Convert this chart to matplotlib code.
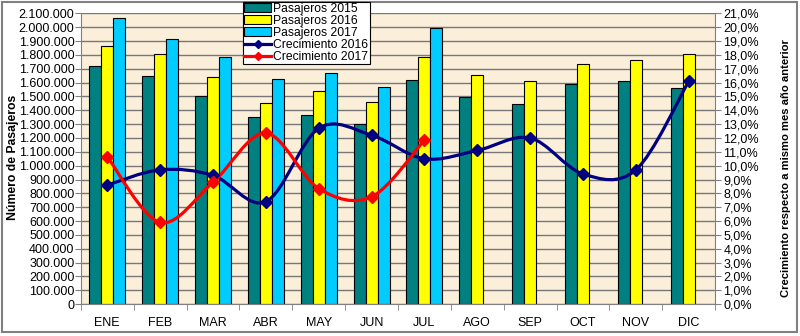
import matplotlib.pyplot as plt
import numpy as np
from matplotlib.path import Path
from matplotlib.patches import PathPatch, Rectangle
from matplotlib.lines import Line2D
from matplotlib.ticker import FuncFormatter, MultipleLocator

plt.rcParams['font.family'] = ['Liberation Sans', 'DejaVu Sans']

meses = ['ENE', 'FEB', 'MAR', 'ABR', 'MAY', 'JUN', 'JUL', 'AGO', 'SEP', 'OCT', 'NOV', 'DIC']
pasajeros_2015 = [1720000, 1648000, 1501000, 1352000, 1366000, 1299000, 1617000,
                  1494000, 1443000, 1588000, 1610000, 1559000]
pasajeros_2016 = [1867000, 1807000, 1639000, 1451000, 1542000, 1463000, 1783000,
                  1658000, 1612000, 1737000, 1764000, 1810000]
pasajeros_2017 = [2070000, 1913000, 1783000, 1629000, 1670000, 1571000, 1995000]
crec_2016 = [8.6, 9.7, 9.3, 7.4, 12.7, 12.2, 10.5, 11.1, 12.0, 9.4, 9.7, 16.1]
crec_2017 = [10.65, 5.9, 8.8, 12.35, 8.35, 7.75, 11.85]


def smooth_path(xs, ys):
    # catmull-rom -> bezier, similar to Excel smoothed lines
    pts = np.column_stack([xs, ys]).astype(float)
    n = len(pts)
    verts = [pts[0]]
    codes = [Path.MOVETO]
    for i in range(n - 1):
        p0 = pts[i - 1] if i > 0 else pts[i]
        p1 = pts[i]
        p2 = pts[i + 1]
        p3 = pts[i + 2] if i + 2 < n else pts[i + 1]
        c1 = p1 + (p2 - p0) / 6
        c2 = p2 - (p3 - p1) / 6
        verts += [c1, c2, p2]
        codes += [Path.CURVE4] * 3
    return Path(verts, codes)


fig = plt.figure(figsize=(8, 3.36), dpi=100)
ax = fig.add_axes([0.101, 0.095, 0.793, 0.865])
ax.set_facecolor('#FBEFDA')

x = np.arange(len(meses))
w = 0.227
ax.bar(x - w, pasajeros_2015, w, color='#008080', edgecolor='black', linewidth=0.8, zorder=2)
ax.bar(x, pasajeros_2016, w, color='#FFFF00', edgecolor='black', linewidth=0.8, zorder=2)
ax.bar(x[:len(pasajeros_2017)] + w, pasajeros_2017, w, color='#00CCFF',
       edgecolor='black', linewidth=0.8, zorder=2)

ax.set_xlim(-0.5, 11.5)
ax.set_ylim(0, 2100000)
ax.yaxis.set_major_locator(MultipleLocator(100000))
ax.yaxis.set_major_formatter(FuncFormatter(lambda v, p: f'{int(v):,}'.replace(',', '.')))
ax.grid(axis='y', color='#777777', linewidth=1.0, zorder=1)
ax.set_axisbelow(True)
ax.set_xticks(x)
ax.set_xticklabels(meses)
ax.set_xticks(np.arange(-0.5, 12, 1), minor=True)
ax.tick_params(axis='x', which='major', length=0, pad=9, labelsize=9)
ax.tick_params(axis='x', which='minor', length=4, color='#808080')
ax.tick_params(axis='y', length=4, color='#808080', labelsize=9, pad=0.5)
ax.set_ylabel('Número de Pasajeros', fontweight='bold', fontsize=8.8)
ax.yaxis.set_label_coords(-0.098, 0.505)
for s in ['top', 'right']:
    ax.spines[s].set_visible(False)
for s in ['left', 'bottom']:
    ax.spines[s].set_color('#808080')

ax2 = ax.twinx()
ax2.set_ylim(0, 21)
ax2.yaxis.set_major_locator(MultipleLocator(1))
ax2.yaxis.set_major_formatter(FuncFormatter(lambda v, p: f'{v:.1f}%'.replace('.', ',')))
ax2.tick_params(axis='y', length=4, color='#808080', labelsize=9, pad=2)
ax2.set_ylabel('Crecimiento respecto a mismo mes año anterior', fontweight='bold',
               fontsize=8.1)
ax2.yaxis.set_label_coords(1.104, 0.468)
for s in ['top', 'left', 'bottom']:
    ax2.spines[s].set_visible(False)
ax2.spines['right'].set_color('#808080')

for vals, col in [(crec_2016, '#000080'), (crec_2017, '#FF0000')]:
    xs = x[:len(vals)]
    ax2.add_patch(PathPatch(smooth_path(xs, vals), facecolor='none', edgecolor=col,
                            linewidth=2.3, zorder=3))
    ax2.plot(xs, vals, linestyle='none', marker='D', markersize=6.5, color=col, zorder=4)

handles = [
    Rectangle((0, 0), 1, 1, facecolor='#008080', edgecolor='black', linewidth=0.8),
    Rectangle((0, 0), 1, 1, facecolor='#FFFF00', edgecolor='black', linewidth=0.8),
    Rectangle((0, 0), 1, 1, facecolor='#00CCFF', edgecolor='black', linewidth=0.8),
    Line2D([], [], color='#000080', linewidth=2.3, marker='D', markersize=4),
    Line2D([], [], color='#FF0000', linewidth=2.3, marker='D', markersize=4),
]
labels = ['Pasajeros 2015', 'Pasajeros 2016', 'Pasajeros 2017', 'Crecimiento 2016', 'Crecimiento 2017']
leg = fig.legend(handles, labels, loc='upper left', bbox_to_anchor=(0.304, 0.995),
                 fontsize=8.7, frameon=True, fancybox=False, framealpha=1,
                 edgecolor='black', borderpad=0.1, labelspacing=0.0,
                 handlelength=2.2, handletextpad=0.2, borderaxespad=0)
leg.get_frame().set_linewidth(0.8)

fig.patches.append(Rectangle((0.003, 0.012), 0.993, 0.983, transform=fig.transFigure,
                             facecolor='none', edgecolor='#808080', linewidth=1.5))

fig.savefig('out.png', dpi=100)
